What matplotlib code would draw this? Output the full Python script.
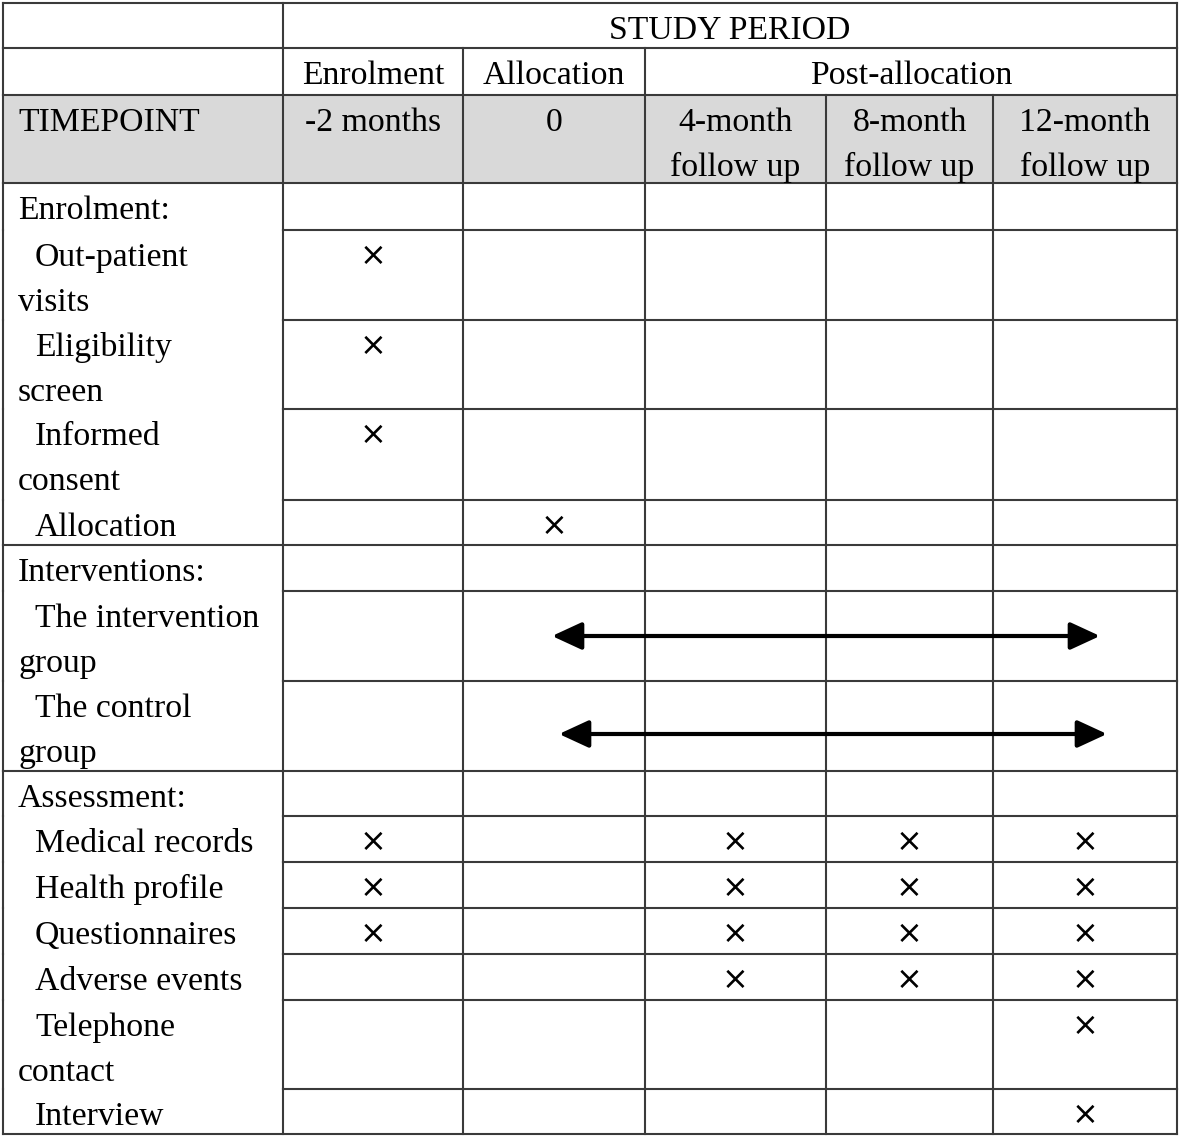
import matplotlib.pyplot as plt

# --- table content ---
period_title = "STUDY PERIOD"
phases = ["Enrolment", "Allocation", "Post-allocation"]
phase_span = [(0, 1), (1, 2), (2, 5)]          # column index ranges
timepoints = ["-2 months", "0", "4-month\nfollow up", "8-month\nfollow up", "12-month\nfollow up"]

row_labels = ["Enrolment:", "Out-patient\nvisits", "Eligibility\nscreen", "Informed\nconsent", "Allocation",
              "Interventions:", "The intervention\ngroup", "The control\ngroup",
              "Assessment:", "Medical records", "Health profile", "Questionnaires",
              "Adverse events", "Telephone\ncontact", "Interview"]
is_section = [True, False, False, False, False,
              True, False, False,
              True, False, False, False, False, False, False]

# which timepoint columns get an x for each row
marks = {
    "Out-patient\nvisits": [0],
    "Eligibility\nscreen": [0],
    "Informed\nconsent": [0],
    "Allocation": [1],
    "Medical records": [0, 2, 3, 4],
    "Health profile": [0, 2, 3, 4],
    "Questionnaires": [0, 2, 3, 4],
    "Adverse events": [2, 3, 4],
    "Telephone\ncontact": [4],
    "Interview": [4],
}
# arrows: row -> (start column, end column)
arrows = {
    "The intervention\ngroup": (1, 4),
    "The control\ngroup": (1, 4),
}

# --- layout (pixels) ---
col_x = [3, 283, 463, 645, 826, 993, 1177]
head_h = [45, 47, 88]
body_h = [47, 90, 89, 91, 45, 46, 90, 90, 45, 46, 46, 46, 46, 89, 45]
arrow_shift = {"The intervention\ngroup": (-2, 15, 0), "The control\ngroup": (5, 22, 8)}
line_c = "#3a3a3a"
lw = 1.5
serif = "Liberation Serif"
fs = 24.3

fig = plt.figure(figsize=(11.81, 11.38), dpi=100)
ax = fig.add_axes([0, 0, 1, 1])
ax.set_xlim(0, 1181)
ax.set_ylim(1138, 0)
ax.axis("off")

y = [3]
for h in head_h + body_h:
    y.append(y[-1] + h)

def cx(i):
    return (col_x[i + 1] + col_x[i + 2]) / 2

# gray timepoint row
ax.fill_between([col_x[0], col_x[-1]], y[2], y[3], color="#d9d9d9", lw=0)

# header text
ax.text((col_x[1] + col_x[-1]) / 2, y[0] + 36, period_title, family=serif, size=fs, ha="center", va="baseline")
for name, (a, b) in zip(phases, phase_span):
    ax.text((col_x[a + 1] + col_x[b + 1]) / 2, y[1] + 36, name, family=serif, size=fs, ha="center", va="baseline")
ax.text(18, y[2] + 36, "TIMEPOINT", family=serif, size=fs, va="baseline")
for i, tp in enumerate(timepoints):
    for k, part in enumerate(tp.split("\n")):
        ax.text(cx(i), y[2] + 36 + 45 * k, part, family=serif, size=fs, ha="center", va="baseline")

# header grid lines
for j in range(4):
    ax.plot([col_x[0], col_x[-1]], [y[j], y[j]], color=line_c, lw=lw)
for x in [col_x[0], col_x[1], col_x[-1]]:
    ax.plot([x, x], [y[0], y[1]], color=line_c, lw=lw)
for x in [col_x[0], col_x[1], col_x[2], col_x[3], col_x[-1]]:
    ax.plot([x, x], [y[1], y[2]], color=line_c, lw=lw)
for x in col_x:
    ax.plot([x, x], [y[2], y[3]], color=line_c, lw=lw)

# body
for r, label in enumerate(row_labels):
    top, bot = y[3 + r], y[4 + r]
    for k, part in enumerate(label.split("\n")):
        indent = 35 if (k == 0 and not is_section[r]) else 18
        ax.text(indent, top + 36 + 45 * k, part, family=serif, size=fs, va="baseline")
    # row bottom line: data columns always, label column only at section ends
    last = r == len(row_labels) - 1
    x0 = col_x[0] if (last or is_section[r + 1]) else col_x[1]
    ax.plot([x0, col_x[-1]], [bot, bot], color=line_c, lw=lw)
    for x in col_x:
        ax.plot([x, x], [top, bot], color=line_c, lw=lw)
    for c in marks.get(label, []):
        ax.text(cx(c), top + 26, "\u00d7", family="DejaVu Sans", size=23, ha="center", va="center")
    if label in arrows:
        a, b = arrows[label]
        s0, s1, dy = arrow_shift[label]
        ym = (top + bot) / 2 + dy
        ax.annotate("", xy=(cx(b) + s1, ym), xytext=(cx(a) + s0, ym),
                    arrowprops=dict(arrowstyle="<|-|>,head_length=1.3,head_width=0.6",
                                    mutation_scale=14, color="black", lw=3.0,
                                    shrinkA=0, shrinkB=0))

fig.savefig("out.png", dpi=100)
